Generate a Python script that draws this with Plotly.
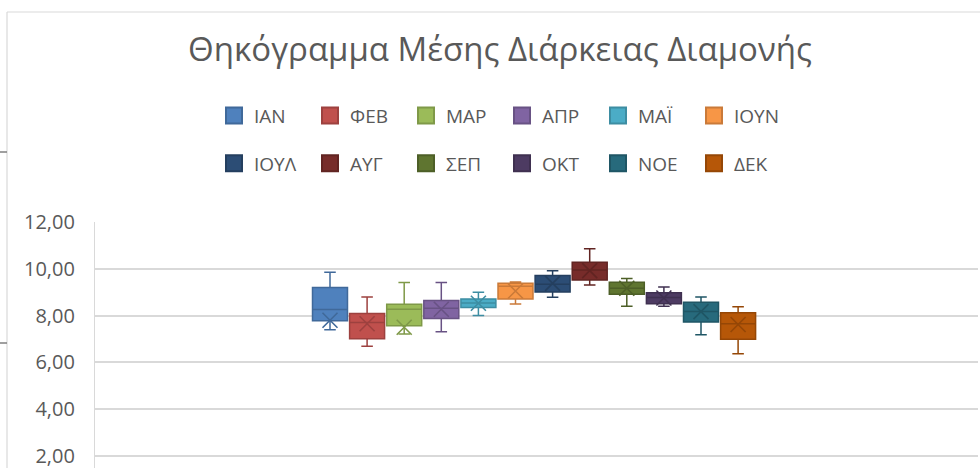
import plotly.graph_objects as go

# ---------------- data ----------------
months = ["ΙΑΝ", "ΦΕΒ", "ΜΑΡ", "ΑΠΡ", "ΜΑΪ", "ΙΟΥΝ", "ΙΟΥΛ", "ΑΥΓ", "ΣΕΠ", "ΟΚΤ", "ΝΟΕ", "ΔΕΚ"]
lower_whisker = [7.40, 6.69, 7.21, 7.31, 8.00, 8.50, 8.78, 9.31, 8.40, 8.40, 7.18, 6.37]
q1_values = [7.78, 7.01, 7.57, 7.88, 8.35, 8.71, 9.01, 9.52, 8.91, 8.51, 7.73, 6.99]
median_values = [8.26, 7.71, 8.27, 8.31, 8.54, 9.25, 9.34, 9.95, 9.17, 8.77, 8.17, 7.65]
q3_values = [9.20, 8.09, 8.48, 8.65, 8.71, 9.38, 9.71, 10.28, 9.42, 8.98, 8.57, 8.12]
upper_whisker = [9.85, 8.80, 9.41, 9.41, 9.00, 9.44, 9.92, 10.86, 9.59, 9.22, 8.79, 8.38]
mean_values = [7.80, 7.65, 7.50, 8.27, 8.53, 9.05, 9.38, 9.92, 9.17, 8.75, 8.17, 7.62]
y_ticks = [2, 4, 6, 8, 10, 12]

title_text = "Θηκόγραμμα Μέσης Διάρκειας Διαμονής"

# ---------------- styles ----------------
fill_colors = ["#4F81BD", "#C0504D", "#9BBB59", "#8064A2", "#4BACC6", "#F79646",
               "#2C4D75", "#772C2A", "#5F7530", "#4D3B62", "#276A7C", "#B65708"]


def darker(hexcol, f=0.82):
    h = hexcol.lstrip("#")
    r, g, b = (int(h[i:i + 2], 16) for i in (0, 2, 4))
    return "#%02X%02X%02X" % (int(r * f), int(g * f), int(b * f))


line_colors = [darker(c) for c in fill_colors]
TEXT = "#595959"
GRID = "#D9D9D9"
FONT = "Open Sans"

W, H = 980, 468
PL, PR, PT, PB = 95, 978, 222, 468  # plot area in pixels
px_per_unit = 23.4
y_min = 12 - (PB - PT) / px_per_unit

fig = go.Figure()

for i, m in enumerate(months):
    fig.add_trace(go.Box(
        x=[m], q1=[q1_values[i]], median=[median_values[i]], q3=[q3_values[i]],
        lowerfence=[lower_whisker[i]], upperfence=[upper_whisker[i]],
        name=m, fillcolor=fill_colors[i],
        line=dict(color=line_colors[i], width=1.5),
        whiskerwidth=0.33, boxpoints=False, showlegend=False, hoverinfo="skip",
    ))

for i, m in enumerate(months):
    fig.add_trace(go.Scatter(
        x=[m], y=[mean_values[i]], mode="markers",
        marker=dict(symbol="x-thin-open", size=15, color=line_colors[i],
                    line=dict(color=line_colors[i], width=1.6)),
        showlegend=False, hoverinfo="skip",
    ))

# legend entries (two rows -> two legends)
for i, m in enumerate(months):
    fig.add_trace(go.Scatter(
        x=[None], y=[None], mode="markers", name=m,
        marker=dict(symbol="square", size=16, color=fill_colors[i],
                    line=dict(color=line_colors[i], width=2)),
        legend="legend" if i < 6 else "legend2",
        showlegend=True,
    ))

x_left = -(330 - PL) / 37.1
x_right = x_left + (PR - PL) / 37.1

legend_common = dict(
    orientation="h", xref="container", yref="container",
    x=214 / W, xanchor="left", yanchor="middle",
    entrywidth=51, entrywidthmode="pixels",
    font=dict(family=FONT, size=19, color=TEXT),
    bgcolor="rgba(0,0,0,0)", borderwidth=0, itemclick=False,
)


def px_x(p):
    return (p - PL) / (PR - PL)


def px_y(p):
    return (PB - p) / (PB - PT)


shapes = [
    # chart border (top and left visible)
    dict(type="line", xref="paper", yref="paper", x0=px_x(7), x1=px_x(990), y0=px_y(12), y1=px_y(12),
         line=dict(color=GRID, width=1.2)),
    dict(type="line", xref="paper", yref="paper", x0=px_x(7), x1=px_x(7), y0=px_y(12), y1=px_y(480),
         line=dict(color=GRID, width=1.2)),
    # small outer marks at left edge
    dict(type="line", xref="paper", yref="paper", x0=px_x(-2), x1=px_x(7), y0=px_y(152), y1=px_y(152),
         line=dict(color="#7F7F7F", width=1.5)),
    dict(type="line", xref="paper", yref="paper", x0=px_x(-2), x1=px_x(7), y0=px_y(343), y1=px_y(343),
         line=dict(color="#7F7F7F", width=1.5)),
]

fig.update_layout(
    width=W, height=H,
    margin=dict(l=PL, r=W - PR, t=PT, b=0, pad=0),
    paper_bgcolor="white", plot_bgcolor="white",
    separators=",.",
    boxmode="overlay", boxgap=0.057, boxgroupgap=0,
    title=dict(text=title_text, xref="container", yref="container",
               x=500 / W, xanchor="center", y=1 - 49 / H, yanchor="middle",
               font=dict(family=FONT, size=33, color=TEXT)),
    xaxis=dict(type="category", categoryorder="array", categoryarray=months,
               range=[x_left, x_right], showticklabels=False, showgrid=False,
               zeroline=False, showline=False, ticks=""),
    yaxis=dict(range=[y_min, 12], tickvals=y_ticks, tickformat=".2f",
               showgrid=True, gridcolor=GRID, gridwidth=1.5,
               showline=True, linecolor=GRID, linewidth=1.2,
               zeroline=False, ticks="", ticklabelstandoff=15,
               ticklabeloverflow="allow",
               tickfont=dict(family=FONT, size=20, color=TEXT)),
    legend=dict(legend_common, y=1 - 115.7 / H),
    legend2=dict(legend_common, y=1 - 163.5 / H),
    shapes=shapes,
    showlegend=True,
)

fig.write_html("out.html", config={"displayModeBar": False},
               post_script="document.body.style.margin='0';document.body.style.padding='0';")
